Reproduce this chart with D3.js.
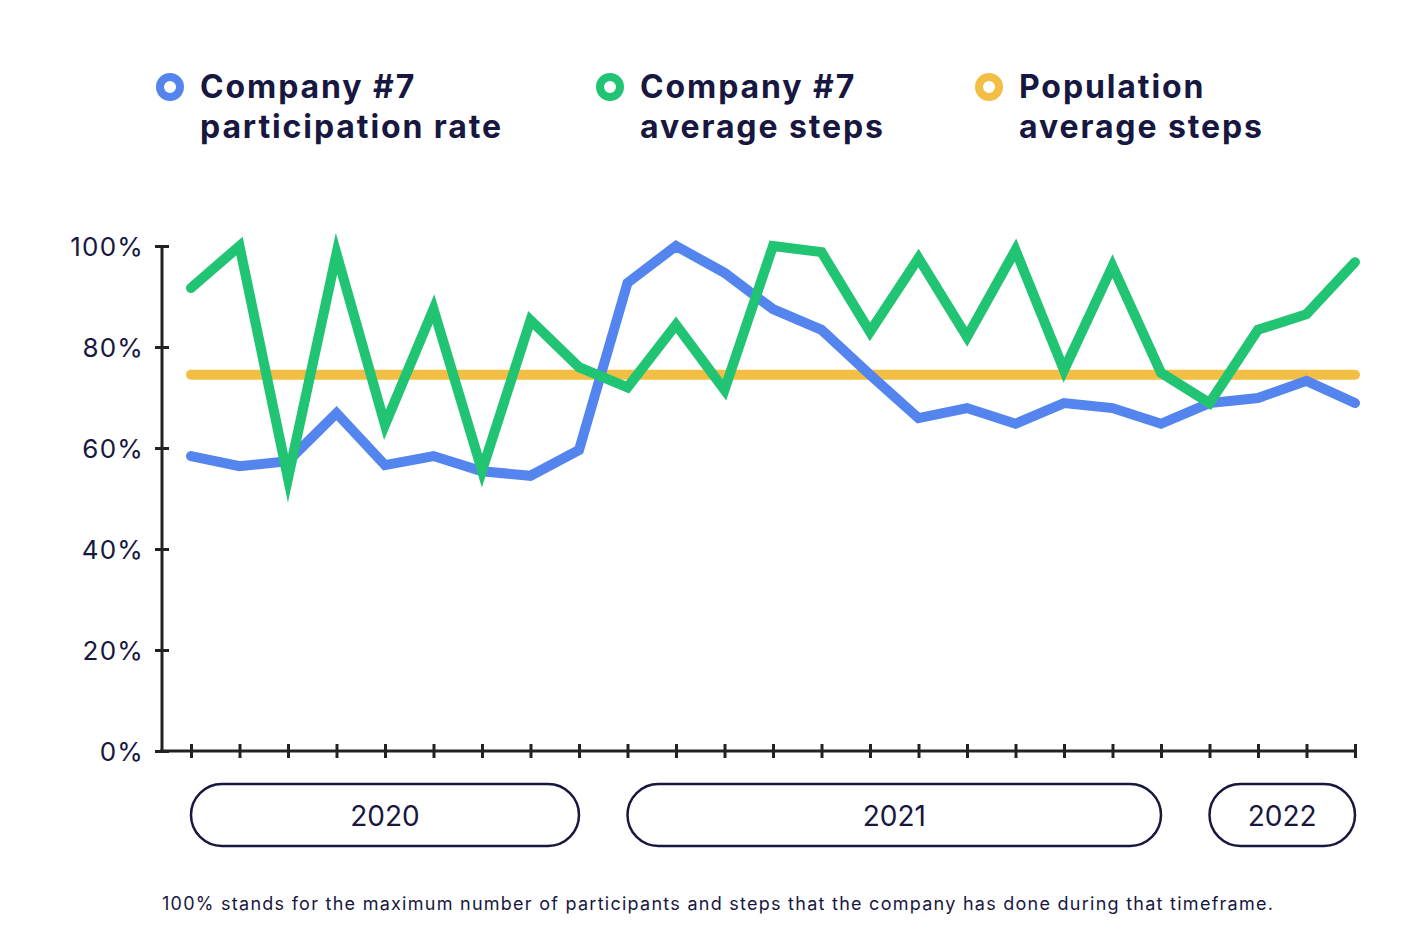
<!DOCTYPE html>
<html><head><meta charset="utf-8">
<script src="https://cdn.jsdelivr.net/npm/d3@7"></script>
<style>
html,body{margin:0;padding:0;background:#fff;}
svg{display:block;font-family:Inter, "Noto Sans", sans-serif;}
</style></head>
<body>
<svg id="chart" width="1414" height="943"></svg>
<script>
const periods = d3.range(25);
const participation = [58.4,56.4,57.4,66.9,56.6,58.4,55.4,54.5,59.6,92.7,100,94.7,87.5,83.4,74.5,65.9,67.9,64.8,68.9,67.9,64.8,68.9,69.9,73.3,68.9];
const avgSteps = [91.7,100,54,98.5,64.6,87.5,55.5,85.3,76,72,84.4,71.5,100,98.8,83,97.6,82,99.2,75.4,96,74.9,68.9,83.4,86.5,96.8];
const populationSteps = periods.map(() => 74.5);
const yTicks = [0,20,40,60,80,100];
const years = ["2020","2021","2022"];
const yearStart = [0,9,21];
const yearEnd = [8,20,24];
const legendLine1 = ["Company #7","Company #7","Population"];
const legendLine2 = ["participation rate","average steps","average steps"];
const colors = ["#5485ee","#20c473","#f2be43"];
const footnote = "100% stands for the maximum number of participants and steps that the company has done during that timeframe.";

const svg = d3.select("#chart");
const navy = "#17173f";
const x = d3.scaleLinear().domain([0,24]).range([191,1355]);
const y = d3.scaleLinear().domain([0,100]).range([751,246]);

// legend
const legendX = [170,610,989];
legendLine1.forEach((t,i)=>{
  const g = svg.append("g");
  g.append("circle").attr("cx",legendX[i]).attr("cy",87).attr("r",10).attr("fill","#fff").attr("stroke",colors[i]).attr("stroke-width",8);
  g.append("text").attr("x",legendX[i]+30).attr("y",98).attr("fill",navy).attr("font-size",32).attr("font-weight",700).attr("letter-spacing",1.9).text(t);
  g.append("text").attr("x",legendX[i]+30).attr("y",138).attr("fill",navy).attr("font-size",32).attr("font-weight",700).attr("letter-spacing",1.9).text(legendLine2[i]);
});

// axes
const yAxis = d3.axisLeft(y).tickValues(yTicks).tickFormat(d=>d+"%").tickSize(7).tickPadding(11);
const gy = svg.append("g").attr("transform","translate(162,0)").call(yAxis);
gy.select(".domain").remove();
gy.append("line").attr("x1",0).attr("x2",0).attr("y1",246).attr("y2",753).attr("stroke","#222").attr("stroke-width",3);
gy.selectAll(".tick line").attr("x1",-7).attr("x2",7).attr("stroke","#222").attr("stroke-width",3);
gy.selectAll(".tick text").attr("fill",navy).attr("font-size",26).attr("font-family","Inter, sans-serif").attr("letter-spacing",1.2).attr("dy","0.35em");

const xAxis = d3.axisBottom(x).tickValues(periods).tickFormat("").tickSize(7);
const gx = svg.append("g").attr("transform","translate(0,751)").call(xAxis);
gx.select(".domain").remove();
gx.append("line").attr("x1",160).attr("x2",1356).attr("y1",0).attr("y2",0).attr("stroke","#222").attr("stroke-width",3);
gx.selectAll(".tick line").attr("y1",-7).attr("y2",7).attr("stroke","#222").attr("stroke-width",3);

// lines
const line = d3.line().x((d,i)=>x(i)).y(d=>y(d));
[[populationSteps,2],[participation,0],[avgSteps,1]].forEach(([data,ci])=>{
  svg.append("path").datum(data).attr("d",line).attr("fill","none")
    .attr("stroke",colors[ci]).attr("stroke-width",10)
    .attr("stroke-linejoin","miter").attr("stroke-miterlimit",10).attr("stroke-linecap","round");
});

// year pills
years.forEach((yr,i)=>{
  const x0 = x(yearStart[i]), x1 = x(yearEnd[i]);
  svg.append("rect").attr("x",x0).attr("y",784).attr("width",x1-x0).attr("height",62).attr("rx",31)
    .attr("fill","#fff").attr("stroke",navy).attr("stroke-width",2.5);
  svg.append("text").attr("x",(x0+x1)/2).attr("y",816).attr("dy","0.35em").attr("text-anchor","middle")
    .attr("fill",navy).attr("font-size",28).text(yr);
});

svg.append("text").attr("x",162).attr("y",910).attr("fill",navy).attr("font-size",18).attr("letter-spacing",1.26).text(footnote);
</script>
</body></html>
